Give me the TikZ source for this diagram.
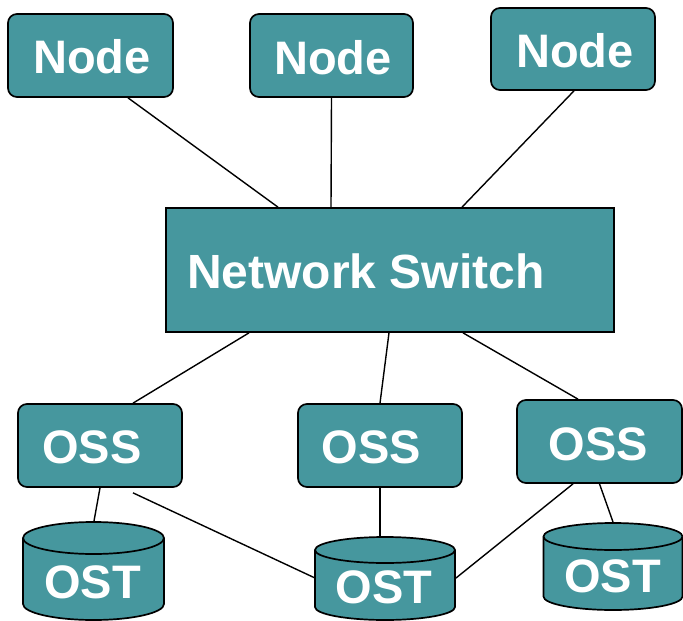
\documentclass[tikz,border=0pt]{standalone}
\usepackage{fontspec}
\setmainfont{Liberation Sans}
\definecolor{stor}{RGB}{70,151,158}

% storage drum: centre x, top-ellipse centre y, bottom-ellipse centre y, x radius, y radius
\newcommand\ostdrum[5]{%
  \filldraw[drum] (#1-#4,#2) -- (#1-#4,#3)
    arc[start angle=180,end angle=360,x radius=#4pt,y radius=#5pt]
    -- (#1+#4,#2)
    arc[start angle=0,end angle=180,x radius=#4pt,y radius=#5pt] -- cycle;
  \draw[drum] (#1-#4,#2)
    arc[start angle=180,end angle=360,x radius=#4pt,y radius=#5pt];
}

\begin{document}
\begin{tikzpicture}[x=1pt,y=-1pt,
  box/.style={draw=black, line width=1.7pt, fill=stor, rounded corners=9pt, inner sep=0pt},
  swbox/.style={draw=black, line width=1.7pt, fill=stor, inner sep=0pt},
  drum/.style={draw=black, line width=1.7pt, fill=stor},
  lbl/.style={text=white, font=\fontsize{47}{50}\bfseries\selectfont, inner sep=0pt, anchor=base},
  link/.style={line width=1.4pt}]
\useasboundingbox (0,0) rectangle (683,621);

% compute nodes
\node[box, minimum width=165pt, minimum height=83pt] (n1) at (90.5,55.5) {};
\node[box, minimum width=163pt, minimum height=83pt] (n2) at (331.5,55.5) {};
\node[box, minimum width=164pt, minimum height=82pt] (n3) at (573,49) {};
\node[lbl] (n1t) at (92,73) {Node};
\node[lbl] (n2t) at (333,74) {Node};
\node[lbl] (n3t) at (575,67) {Node};

% switch
\node[swbox, minimum width=448pt, minimum height=124pt] (sw) at (390,270) {};
\node[lbl, anchor=base west, font=\fontsize{48}{50}\bfseries\selectfont] (swt) at (187,288) {Network Switch};

% object storage servers
\node[box, minimum width=164pt, minimum height=83pt] (oss1) at (100,445.5) {};
\node[box, minimum width=164pt, minimum height=83pt] (oss2) at (380,445.5) {};
\node[box, minimum width=165pt, minimum height=83pt] (oss3) at (599.5,441.5) {};
\node[lbl] (oss1t) at (92,463) {OSS};
\node[lbl] (oss2t) at (371.5,463) {OSS};
\node[lbl] (oss3t) at (598.5,460) {OSS};

% object storage targets
\ostdrum{93.5}{538}{604}{70.5}{16}
\ostdrum{385}{550}{607}{70}{13}
\ostdrum{613}{536.5}{596.5}{69.5}{13.5}
\node[lbl] (ost1) at (92.5,598) {OST};
\node[lbl] (ost2) at (384,603) {OST};
\node[lbl] (ost3) at (612.5,592) {OST};
\coordinate (ost1top) at (94,521);
\coordinate (ost2top) at (380,537);
\coordinate (ost2l) at (315,578);
\coordinate (ost2r) at (456,578);
\coordinate (ost3top) at (613,522);

% links
\draw[link] ([xshift=37.5pt]n1.south) -- ([xshift=-112pt]sw.north);
\draw[link] (n2.south) -- ([xshift=-59pt]sw.north);
\draw[link] ([xshift=1pt]n3.south) -- ([xshift=72pt]sw.north);
\draw[link] ([xshift=-141pt]sw.south) -- ([xshift=33pt]oss1.north);
\draw[link] ([xshift=-1pt]sw.south) -- (oss2.north);
\draw[link] ([xshift=73pt]sw.south) -- ([xshift=-21.5pt]oss3.north);
\draw[link] (oss1.south) -- (ost1top);
\draw[link] ([xshift=33pt,yshift=-5pt]oss1.south) -- (ost2l);
\draw[link] (oss2.south) -- (ost2top);
\draw[link] ([xshift=-26.5pt]oss3.south) -- (ost2r);
\draw[link] (oss3.south) -- (ost3top);
\end{tikzpicture}
\end{document}
